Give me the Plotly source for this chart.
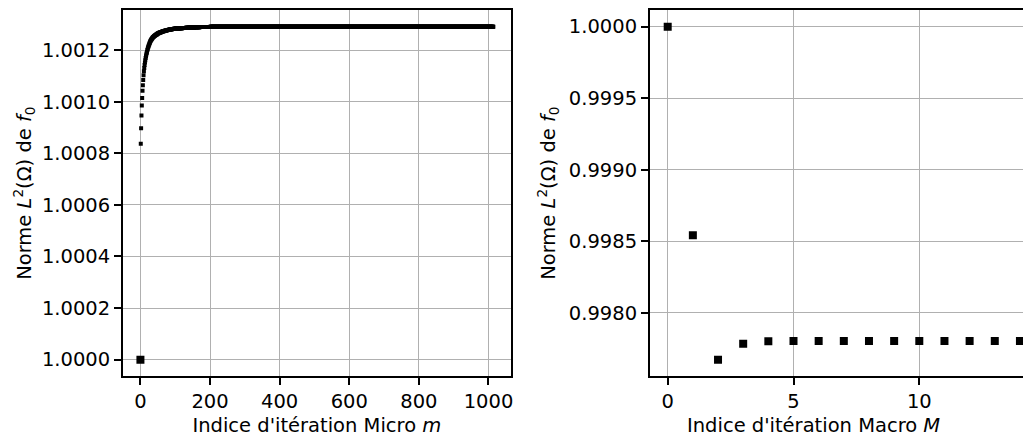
import plotly.graph_objects as go

# ---------------- data ----------------
# Left panel: micro iterations m, values = 1 + v * 1e-6
micro_m0 = [0]
micro_v0 = [1.0]
micro_early_e6 = [
    837, 897, 947, 985, 1014, 1042, 1064, 1084, 1103, 1118,
    1131, 1142, 1152, 1161, 1169, 1176, 1183, 1189, 1194, 1200,
    1205, 1210, 1214, 1218, 1222, 1226, 1229, 1232, 1235, 1238,
    1240, 1242, 1244, 1246, 1248, 1250, 1251, 1252, 1254, 1255,
    1256, 1257, 1258, 1259, 1260, 1261, 1262, 1262, 1263, 1264,
    1265, 1265, 1266, 1267, 1267, 1268, 1268, 1269, 1269, 1270,
    1270, 1271, 1272, 1272, 1273, 1273, 1273, 1274, 1274, 1275,
    1275, 1275, 1276, 1276, 1277, 1277, 1277, 1278, 1278, 1278,
    1279, 1279, 1279, 1280, 1280, 1280, 1280, 1281, 1281, 1281,
    1281, 1282, 1282, 1282, 1282, 1283, 1283, 1283, 1283, 1283,
]
# later part: plateau levels (e-6) and how many iterations stay at each level
micro_tail_levels_e6 = [1284, 1285, 1286, 1287, 1288, 1289, 1290, 1291]
micro_tail_counts = [10, 10, 10, 10, 15, 15, 30, 814]

# Right panel: macro iterations M
macro_M = [0, 1, 2, 3, 4, 5, 6, 7, 8, 9, 10, 11, 12, 13, 14]
macro_vals = [1.0, 0.998542, 0.997672, 0.997783, 0.997801, 0.997802,
              0.997802, 0.997802, 0.997802, 0.997802, 0.997802, 0.997802,
              0.997802, 0.997802, 0.997802]

left_yticks = [1.0000, 1.0002, 1.0004, 1.0006, 1.0008, 1.0010, 1.0012]
left_xticks = [0, 200, 400, 600, 800, 1000]
right_yticks = [0.9980, 0.9985, 0.9990, 0.9995, 1.0000]
right_xticks = [0, 5, 10]

# ---------------- build series ----------------
micro_vals_e6 = list(micro_early_e6)
for lvl, cnt in zip(micro_tail_levels_e6, micro_tail_counts):
    micro_vals_e6 += [lvl] * cnt
micro_m = list(range(1, len(micro_vals_e6) + 1))
micro_vals = [1 + v * 1e-6 for v in micro_vals_e6]

# page body has an 8px margin; figure size compensates
OFF = 8
W, H = 1031 - OFF, 437 - OFF
FONT = "DejaVu Sans"
FS = 19.5
GRID = "#b0b0b0"

fig = go.Figure()
fig.add_trace(go.Scatter(x=micro_m, y=micro_vals, mode="markers",
                         marker=dict(symbol="square", size=4, color="black", line=dict(width=0)),
                         xaxis="x", yaxis="y", showlegend=False))
fig.add_trace(go.Scatter(x=micro_m0, y=micro_v0, mode="markers",
                         marker=dict(symbol="square", size=8, color="black", line=dict(width=0)),
                         xaxis="x", yaxis="y", showlegend=False))
fig.add_trace(go.Scatter(x=macro_M, y=macro_vals, mode="markers",
                         marker=dict(symbol="square", size=8, color="black", line=dict(width=0)),
                         xaxis="x2", yaxis="y2", showlegend=False))


def px_x(a):
    return (a - OFF) / W


def px_y(a):
    return 1 - (a - OFF) / H


ydom = [px_y(376), px_y(8)]
axis_common = dict(showgrid=True, gridcolor=GRID, gridwidth=1.4, zeroline=False,
                   showline=True, linecolor="black", linewidth=1.5,
                   ticks="outside", ticklen=7, tickwidth=1.5, tickcolor="black",
                   tickfont=dict(family=FONT, size=FS, color="black"))
ytitle = "Norme <i>L</i><sup>2</sup>(Ω) de <i>f</i><sub>0</sub>"
tfont = dict(family=FONT, size=FS, color="black")

# left panel range with 5% margins
lx_min, lx_max = 0, micro_m[-1]
lxr = [lx_min - 0.05 * (lx_max - lx_min), lx_max + 0.05 * (lx_max - lx_min)]
ly_min, ly_max = min(micro_v0 + micro_vals), max(micro_v0 + micro_vals)
lyr = [ly_min - 0.05 * (ly_max - ly_min), ly_max + 0.05 * (ly_max - ly_min)]

ry_min, ry_max = min(macro_vals), max(macro_vals)
ryr = [ry_min - 0.05 * (ry_max - ry_min), ry_max + 0.05 * (ry_max - ry_min)]

fig.update_layout(
    width=W, height=H,
    margin=dict(l=0, r=0, t=0, b=0),
    paper_bgcolor="white", plot_bgcolor="white",
    font=dict(family=FONT, size=FS, color="black"),
    xaxis=dict(domain=[px_x(123), px_x(512)], anchor="y", range=lxr, mirror=True,
               tickvals=left_xticks, ticktext=[str(t) for t in left_xticks],
               title=dict(text="Indice d'itération Micro <i>m</i>", standoff=6, font=tfont),
               **axis_common),
    yaxis=dict(domain=ydom, anchor="x", range=lyr, mirror=True,
               tickvals=left_yticks, ticktext=[f"{t:.4f}" for t in left_yticks],
               title=dict(text=ytitle, standoff=5, font=tfont),
               **axis_common),
    xaxis2=dict(domain=[px_x(651), 1.0], anchor="y2", range=[-0.714, 14.36], mirror=True,
                tickvals=right_xticks, ticktext=[str(t) for t in right_xticks],
                **axis_common),
    yaxis2=dict(domain=ydom, anchor="x2", range=ryr, mirror=False,
                tickvals=right_yticks, ticktext=[f"{t:.4f}" for t in right_yticks],
                title=dict(text=ytitle, standoff=8, font=tfont),
                **axis_common),
)

# right panel x title (centred as in the reference)
fig.add_annotation(text="Indice d'itération Macro <i>M</i>", xref="paper", yref="paper",
                   x=px_x(815), y=px_y(425), xanchor="center", yanchor="middle",
                   showarrow=False, font=tfont)

fig.write_html("out.html")
